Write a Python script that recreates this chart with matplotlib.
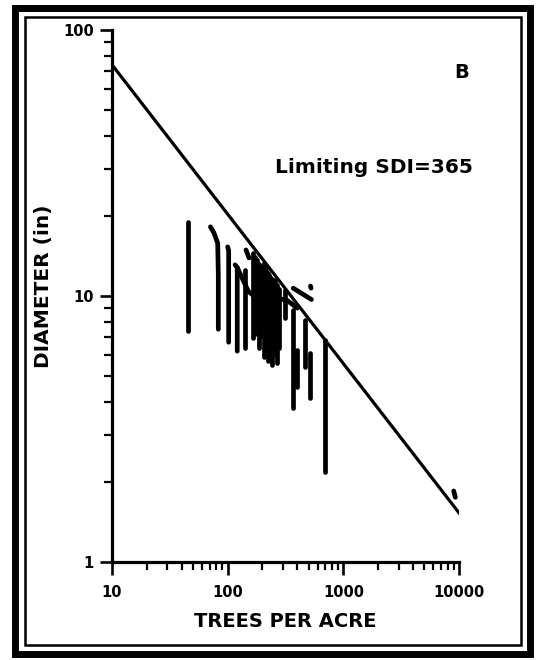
#imports
import matplotlib
matplotlib.use('Agg')
import matplotlib.pyplot as plt
from matplotlib.patches import Rectangle

#limiting stand density line (SDI = 365)
limit_trees = [10, 10000]
limit_diam = [74, 1.53]

#stand trajectories: trees per acre and diameter (in)
traj_trees = [
    [45, 45],
    [71, 76, 82, 83, 83],
    [100, 102, 102],
    [116, 121, 121],
    [121, 151, 170, 250, 330, 400],
    [141, 141],
    [144, 153],
    [166, 166],
    [172, 172],
    [176, 176],
    [180, 180],
    [188, 188],
    [192, 192],
    [196, 196],
    [205, 205],
    [210, 210],
    [214, 214],
    [224, 224],
    [229, 229],
    [234, 234],
    [244, 244],
    [250, 250],
    [256, 256],
    [266, 266],
    [278, 278],
    [313, 313],
    [369, 369],
    [395, 395],
    [466, 466],
    [514, 514],
    [693, 693],
    [369, 530],
    [520, 526],
    [9000, 9300],
]
traj_diam = [
    [19.0, 7.4],
    [18.2, 17.3, 15.8, 12.0, 7.5],
    [15.3, 14.8, 6.7],
    [13.1, 12.8, 6.2],
    [12.8, 10.4, 10.0, 9.9, 9.6, 9.0],
    [12.5, 6.4],
    [14.9, 13.9],
    [14.5, 6.95],
    [14.0, 7.2],
    [13.8, 8.2],
    [13.6, 8.8],
    [13.2, 6.4],
    [13.0, 7.0],
    [12.8, 7.6],
    [13.3, 5.9],
    [12.7, 6.3],
    [12.5, 6.6],
    [12.2, 5.7],
    [12.0, 6.0],
    [11.8, 6.2],
    [11.6, 5.5],
    [11.5, 6.3],
    [11.4, 6.0],
    [11.0, 5.6],
    [10.6, 6.4],
    [10.5, 8.3],
    [8.85, 3.8],
    [6.25, 4.56],
    [8.1, 5.4],
    [6.1, 4.12],
    [6.83, 2.18],
    [10.7, 9.7],
    [10.9, 10.7],
    [1.85, 1.75],
]

#tick positions and labels
x_ticks = [10, 100, 1000, 10000]
x_labels = ['10', '100', '1000', '10000']
y_ticks = [1, 10, 100]
y_labels = ['1', '10', '100']

W, H = 536, 660
fig = plt.figure(figsize=(W / 100, H / 100), dpi=100)
ax = fig.add_axes([112 / W, 1 - 562 / H, (459 - 112) / W, (562 - 30) / H])

#limit line and trajectories
ax.plot(limit_trees, limit_diam, color='black', lw=2.3)
for n, d in zip(traj_trees, traj_diam):
    ax.plot(n, d, color='black', lw=3.4, solid_capstyle='round')

ax.set_xscale('log')
ax.set_yscale('log')
ax.set_xlim(10, 10000)
ax.set_ylim(1, 100)

for s in ['top', 'right']:
    ax.spines[s].set_visible(False)
for s in ['left', 'bottom']:
    ax.spines[s].set_linewidth(2.3)

ax.set_xticks(x_ticks)
ax.set_xticklabels(x_labels)
ax.set_yticks(y_ticks)
ax.set_yticklabels(y_labels)
ax.tick_params(which='major', length=9, width=1.9, direction='out', labelsize=10.5)
ax.tick_params(which='minor', length=6, width=1.6, direction='out')
ax.tick_params(axis='x', which='major', pad=7.5)
ax.tick_params(axis='y', which='major', pad=4)
for lab in ax.get_xticklabels() + ax.get_yticklabels():
    lab.set_fontweight('bold')

#axis titles and annotations
fig.text(285 / W, 1 - 621.7 / H, 'TREES PER ACRE', ha='center', va='center',
         fontsize=14, fontweight='bold')
fig.text(44 / W, 1 - 286 / H, 'DIAMETER (in)', ha='center', va='center',
         rotation=90, fontsize=14.5, fontweight='bold')
fig.text(374 / W, 1 - 167.5 / H, 'Limiting SDI=365', ha='center', va='center',
         fontsize=14.5, fontweight='bold')
fig.text(461.5 / W, 1 - 72.5 / H, 'B', ha='center', va='center',
         fontsize=14, fontweight='bold')

#double border
fig.add_artist(Rectangle((15 / W, 1 - 654 / H), 515 / W, 646 / H,
                         transform=fig.transFigure, fill=False, lw=5, color='black'))
fig.add_artist(Rectangle((25 / W, 1 - 645 / H), 495.5 / W, 628.5 / H,
                         transform=fig.transFigure, fill=False, lw=1.8, color='black'))

fig.savefig('out.png', dpi=100)
